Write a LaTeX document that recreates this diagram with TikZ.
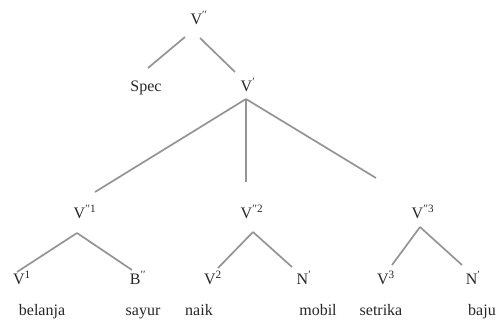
\documentclass[tikz,border=0pt]{standalone}
\usepackage{fontspec}
\setmainfont{Liberation Serif}
\usetikzlibrary{calc}
\newcommand{\pp}{\symbol{"2032}\symbol{"2032}}
\newcommand{\p}{\symbol{"2032}}
\begin{document}
\begin{tikzpicture}[x=1pt,y=-1pt,
  lbl/.style={text=black!85,font=\fontsize{16}{18}\selectfont,inner sep=0pt,text height=11pt,text depth=3pt},
  edge/.style={draw=black!42,line width=1.7pt}]
\useasboundingbox (0,0) rectangle (499,320);
\node[lbl] (vtop) at (199,21) {V\textsuperscript{\pp}};
\node[lbl] (spec) at (146,88) {Spec};
\node[lbl] (vbar) at (248,88) {V\textsuperscript{\p}};
\node[lbl] (v1p) at (85,215) {V\textsuperscript{\pp1}};
\node[lbl] (v2p) at (252,215) {V\textsuperscript{\pp2}};
\node[lbl] (v3p) at (423,215) {V\textsuperscript{\pp3}};
\node[lbl] (va) at (22,281) {V\textsuperscript{1}};
\node[lbl] (bb) at (138,281) {B\textsuperscript{\pp}};
\node[lbl] (vb) at (213,281) {V\textsuperscript{2}};
\node[lbl] (nb) at (304,281) {N\textsuperscript{\p}};
\node[lbl] (vc) at (386,281) {V\textsuperscript{3}};
\node[lbl] (nc) at (473,281) {N\textsuperscript{\p}};
\node[lbl] (w1) at (42,312) {belanja};
\node[lbl] (w2) at (143,312) {sayur};
\node[lbl] (w3) at (199,312) {naik};
\node[lbl] (w4) at (318,312) {mobil};
\node[lbl] (w5) at (381,312) {setrika};
\node[lbl] (w6) at (482,312) {baju};
\draw[edge] ($(vtop)+(-14,16)$) -- ($(spec)+(2,-20)$);
\draw[edge] ($(vtop)+(1,17)$) -- ($(vbar)+(-13,-16)$);
\draw[edge] ($(vbar)+(-2,11)$) -- ($(v1p)+(10,-23)$);
\draw[edge] ($(vbar)+(-2,11)$) -- ($(v2p)+(-6,-33)$);
\draw[edge] ($(vbar)+(-2,11)$) -- ($(v3p)+(-47,-37)$);
\draw[edge] ($(v1p)+(-8,18)$) -- ($(va)+(-5,-9)$);
\draw[edge] ($(v1p)+(-8,18)$) -- ($(bb)+(-6,-11)$);
\draw[edge] ($(v2p)+(1,17)$) -- ($(vb)+(5,-13)$);
\draw[edge] ($(v2p)+(1,17)$) -- ($(nb)+(-12,-14)$);
\draw[edge] ($(v3p)+(-3,12)$) -- ($(vc)+(6,-16)$);
\draw[edge] ($(v3p)+(-3,12)$) -- ($(nc)+(-11,-16)$);
\end{tikzpicture}
\end{document}
